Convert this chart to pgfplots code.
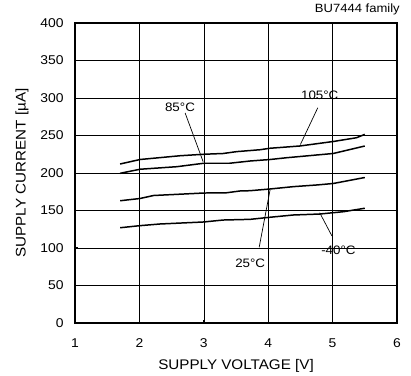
\documentclass[border=0pt]{standalone}
\usepackage{fontspec}
\setmainfont{Liberation Sans}[FakeStretch=1.09]
\usepackage{pgfplots}
\pgfplotsset{compat=1.18}
\begin{document}
\begin{tikzpicture}
\begin{axis}[
    scale only axis,
    width=322bp, height=300bp,
    xmin=1, xmax=6, ymin=0, ymax=400,
    xtick={1,2,...,6}, ytick={0,50,...,400},
    grid=major,
    major grid style={black, line width=0.6pt},
    axis line style={line width=1.8pt},
    tick style={black, line width=1pt},
    major tick length=3pt,
    tick align=inside,
    xtick pos=bottom, ytick pos=left,
    tick label style={font=\fontsize{12.8}{14}\selectfont},
    yticklabel style={xshift=-8bp},
    xticklabel style={yshift=-12bp},
    /pgf/number format/assume math mode=true,
    xlabel={SUPPLY VOLTAGE [V]},
    ylabel={SUPPLY CURRENT [µA]},
    xlabel style={font=\fontsize{14}{15}\selectfont, at={(rel axis cs:0.5,-0.142)}, anchor=center},
    ylabel style={font=\fontsize{14}{15}\selectfont, at={(rel axis cs:-0.1646,0.5)}, anchor=center},
    clip=false,
]
% 105 C
\addplot[black, line width=1.5pt] coordinates {
 (1.70,212) (2.01,218) (2.63,223) (3.00,225) (3.30,226) (3.51,228.5)
 (3.87,231) (4.03,233) (4.49,236) (5.01,242) (5.37,247) (5.50,251.5)};
% 85 C
\addplot[black, line width=1.5pt] coordinates {
 (1.70,199.6) (2.01,205) (2.58,208.4) (3.00,213) (3.40,213) (3.72,216)
 (4.03,218) (4.29,220.4) (4.75,224) (5.01,226) (5.50,236)};
% 25 C
\addplot[black, line width=1.5pt] coordinates {
 (1.70,163) (2.01,166) (2.22,170) (3.00,173.3) (3.35,173.6) (3.56,176)
 (3.72,176.4) (4.03,178.7) (4.39,181.8) (4.75,184) (5.01,186) (5.50,194)};
% -40 C
\addplot[black, line width=1.5pt] coordinates {
 (1.70,127) (2.01,129.8) (2.32,132) (3.00,134.7) (3.30,137.3) (3.72,138.2)
 (4.03,141) (4.39,144) (4.80,145.3) (5.17,148.4) (5.50,153)};
% pointers
\addplot[black, line width=0.7pt] coordinates {(2.71,280) (2.99,215)};
\addplot[black, line width=0.7pt] coordinates {(4.77,287) (4.50,238)};
\addplot[black, line width=0.7pt] coordinates {(3.86,101) (4.03,178)};
\addplot[black, line width=0.7pt] coordinates {(4.99,116) (4.80,147)};
\node[font=\fontsize{12.3}{14}\selectfont] at (axis cs:2.63,288) {85°C};
\node[font=\fontsize{12.3}{14}\selectfont] at (axis cs:4.80,304) {105°C};
\node[font=\fontsize{12.3}{14}\selectfont] at (axis cs:3.72,80) {25°C};
\node[font=\fontsize{12.3}{14}\selectfont] at (axis cs:5.09,97) {-40°C};
\node[font=\fontsize{12}{14}\selectfont, anchor=east, inner sep=0pt] at (rel axis cs:1.009,1.0467) {BU7444 family};
\path (rel axis cs:-0.233,-0.1767) rectangle (rel axis cs:1.0435,1.0767);
\end{axis}
\end{tikzpicture}
\end{document}
